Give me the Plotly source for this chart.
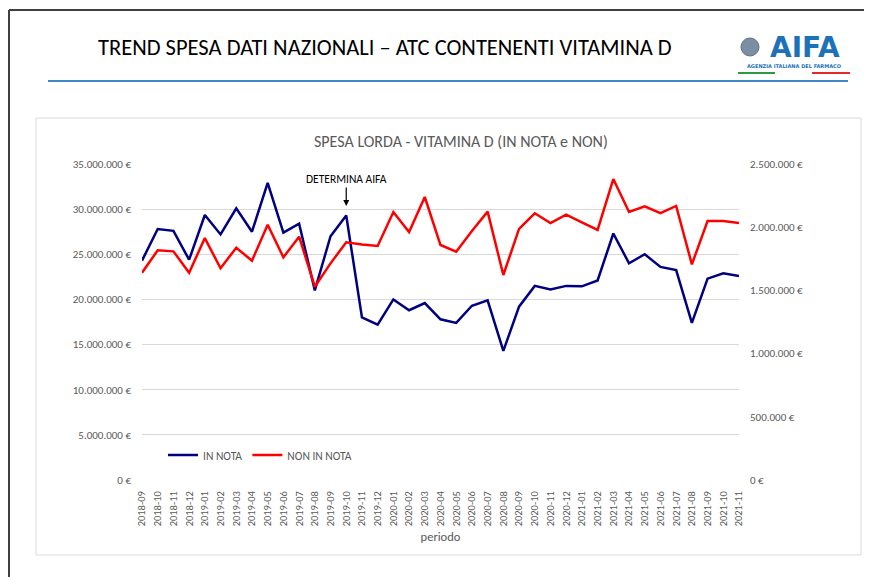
import plotly.graph_objects as go

# periods (x categories)
periodi = [
    "2018-09", "2018-10", "2018-11", "2018-12",
    "2019-01", "2019-02", "2019-03", "2019-04", "2019-05", "2019-06",
    "2019-07", "2019-08", "2019-09", "2019-10", "2019-11", "2019-12",
    "2020-01", "2020-02", "2020-03", "2020-04", "2020-05", "2020-06",
    "2020-07", "2020-08", "2020-09", "2020-10", "2020-11", "2020-12",
    "2021-01", "2021-02", "2021-03", "2021-04", "2021-05", "2021-06",
    "2021-07", "2021-08", "2021-09", "2021-10", "2021-11",
]

# spesa lorda IN NOTA (asse sinistro, €)
in_nota = [
    24.3e6, 27.8e6, 27.6e6, 24.4e6,
    29.35e6, 27.2e6, 30.1e6, 27.5e6, 32.9e6, 27.4e6,
    28.4e6, 21.0e6, 27.0e6, 29.3e6, 18.0e6, 17.2e6,
    20.0e6, 18.8e6, 19.6e6, 17.8e6, 17.4e6, 19.3e6,
    19.9e6, 14.3e6, 19.2e6, 21.5e6, 21.1e6, 21.5e6,
    21.45e6, 22.1e6, 27.3e6, 24.0e6, 25.0e6, 23.6e6,
    23.25e6, 17.4e6, 22.3e6, 22.9e6, 22.6e6,
]

# spesa lorda NON IN NOTA (asse destro, €)
non_in_nota = [
    1.640e6, 1.817e6, 1.809e6, 1.640e6,
    1.914e6, 1.675e6, 1.838e6, 1.735e6, 2.020e6, 1.762e6,
    1.925e6, 1.529e6, 1.714e6, 1.880e6, 1.864e6, 1.851e6,
    2.120e6, 1.962e6, 2.239e6, 1.859e6, 1.806e6, 1.970e6,
    2.123e6, 1.622e6, 1.986e6, 2.110e6, 2.033e6, 2.099e6,
    2.039e6, 1.978e6, 2.381e6, 2.120e6, 2.165e6, 2.112e6,
    2.168e6, 1.706e6, 2.049e6, 2.049e6, 2.033e6,
]

OFF = 8                            # page body margin
W, H = 872 - OFF, 577 - OFF
L, R, T, B = 142, 739, 164, 480    # plot area in screen pixels
FONT = "Carlito, Lato, 'Open Sans', sans-serif"
GREY = "#595959"


def px(X):
    return (X - L) / (R - L)


def py(Y):
    return (B - Y) / (B - T)


fig = go.Figure()

fig.add_trace(go.Scatter(
    x=periodi, y=in_nota, name="IN NOTA", mode="lines",
    line=dict(color="#000080", width=2.5),
))
fig.add_trace(go.Scatter(
    x=periodi, y=non_in_nota, name="NON IN NOTA", mode="lines",
    line=dict(color="#FF0000", width=2.5), yaxis="y2",
))

shapes = [
    # slide frame
    dict(type="line", xref="paper", yref="paper", x0=px(9), x1=px(9),
         y0=py(10), y1=py(580), line=dict(color="#404040", width=2)),
    dict(type="line", xref="paper", yref="paper", x0=px(9), x1=px(875),
         y0=py(10), y1=py(10), line=dict(color="#404040", width=2)),
    # title rule
    dict(type="line", xref="paper", yref="paper", x0=px(48), x1=px(848),
         y0=py(81), y1=py(81), line=dict(color="#3D85C6", width=2)),
    # chart box
    dict(type="rect", xref="paper", yref="paper", x0=px(36), x1=px(861),
         y0=py(118), y1=py(555), line=dict(color="#D9D9D9", width=1)),
    # logo
    dict(type="circle", xref="paper", yref="paper", x0=px(741), x1=px(759),
         y0=py(38), y1=py(56), fillcolor="#7C8EA3", line=dict(color="#5C6F86", width=1)),
    dict(type="line", xref="paper", yref="paper", x0=px(738), x1=px(775),
         y0=py(73), y1=py(73), line=dict(color="#2E9A3E", width=2)),
    dict(type="line", xref="paper", yref="paper", x0=px(812), x1=px(850),
         y0=py(73), y1=py(73), line=dict(color="#E52A2A", width=2)),
]

annotations = [
    dict(text="TREND SPESA DATI NAZIONALI – ATC CONTENENTI VITAMINA D",
         xref="paper", yref="paper", x=px(385), y=py(47), showarrow=False,
         xanchor="center", yanchor="middle",
         font=dict(family=FONT, size=22.5, color="#000000")),
    dict(text="SPESA LORDA - VITAMINA D (IN NOTA e NON)",
         xref="paper", yref="paper", x=px(461), y=py(141), showarrow=False,
         xanchor="center", yanchor="middle",
         font=dict(family=FONT, size=16, color=GREY)),
    dict(text="<b>AIFA</b>", xref="paper", yref="paper", x=px(805), y=py(47),
         showarrow=False, xanchor="center", yanchor="middle",
         font=dict(family="'DejaVu Sans', sans-serif", size=28, color="#1D71B8")),
    dict(text="<b>AGENZIA ITALIANA DEL FARMACO</b>", xref="paper", yref="paper",
         x=px(794), y=py(66), showarrow=False, xanchor="center", yanchor="middle",
         font=dict(family="'DejaVu Sans', sans-serif", size=5, color="#1D71B8")),
    dict(text="DETERMINA AIFA", x="2019-10", y=30.35e6, xref="x", yref="y",
         showarrow=True, arrowhead=2, arrowsize=1, arrowwidth=1.2,
         arrowcolor="#000000", ax=0, ay=-27,
         font=dict(family=FONT, size=11.5, color="#000000")),
]

fig.update_layout(
    width=W, height=H,
    margin=dict(l=L - OFF, r=W + OFF - R, t=T - OFF, b=H + OFF - B),
    paper_bgcolor="white", plot_bgcolor="white",
    separators=",.",
    font=dict(family=FONT, size=11, color=GREY),
    showlegend=True,
    legend=dict(orientation="h", x=px(163), y=py(455), xanchor="left",
                yanchor="middle", bgcolor="rgba(0,0,0,0)", tracegroupgap=0,
                font=dict(family=FONT, size=11.5, color=GREY)),
    xaxis=dict(
        type="category", tickangle=-90, showgrid=False, showline=False,
        ticks="outside", ticklen=6, tickcolor="rgba(0,0,0,0)",
        tickfont=dict(size=10.5, color=GREY),
        title=dict(text="periodo", font=dict(size=12.5, color=GREY), standoff=6),
    ),
    yaxis=dict(
        range=[0, 35e6], dtick=5e6, tickformat=",.0f", ticksuffix=" €",
        showgrid=True, gridcolor="#D9D9D9", gridwidth=1, zeroline=False,
        showline=False, ticks="", ticklabelstandoff=10,
        tickfont=dict(size=11, color=GREY),
    ),
    yaxis2=dict(
        range=[0, 2.5e6], dtick=5e5, tickformat=",.0f", ticksuffix=" €",
        overlaying="y", side="right", showgrid=False, zeroline=False,
        showline=False, ticks="", ticklabelstandoff=10,
        tickfont=dict(size=11, color=GREY),
    ),
    shapes=shapes,
    annotations=annotations,
)

fig.write_html("out.html")
